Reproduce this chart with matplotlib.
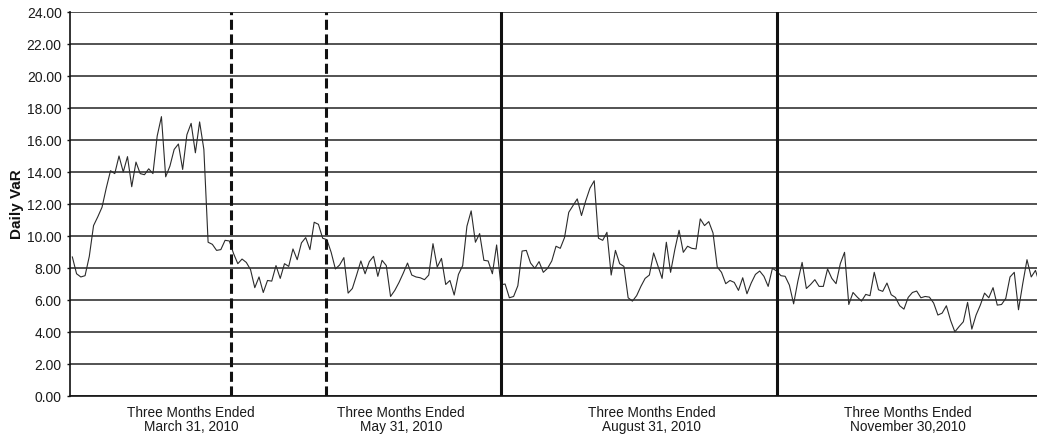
import numpy as np
import matplotlib
matplotlib.use('Agg')
import matplotlib.pyplot as plt

plt.rcParams['font.family'] = ['Liberation Sans', 'DejaVu Sans']

# Daily VaR readings, one per trading day
var_q1 = [8.69, 7.64, 7.44, 7.52, 8.73, 10.65, 11.2, 11.8, 13.0, 14.08,
          13.9, 15.0, 14.0, 14.96, 13.08, 14.62, 13.9, 13.83, 14.2, 13.9,
          16.25, 17.46, 13.7, 14.37, 15.41, 15.75, 14.16, 16.33, 17.04, 15.2,
          17.13, 15.41, 9.61, 9.48, 9.1, 9.15, 9.73, 9.69]
var_q2 = [8.9, 8.27, 8.56, 8.35, 7.9, 6.77, 7.44, 6.47, 7.22, 7.18,
          8.15, 7.35, 8.27, 8.1, 9.19, 8.52, 9.57, 9.9, 9.15, 10.86,
          10.73, 9.86, 9.77, 8.98, 7.94, 8.19, 8.65, 6.43, 6.72, 7.56,
          8.44, 7.64, 8.4, 8.73, 7.48, 8.48, 8.15, 6.22,
          6.6, 7.1, 7.68, 8.31, 7.56, 7.44, 7.39, 7.27, 7.56, 9.52,
          8.06, 8.6, 6.97, 7.22, 6.31, 7.6, 8.15, 10.61, 11.57, 9.61,
          10.15, 8.48, 8.44, 7.64, 9.44]
var_q3 = [6.95, 7.0, 6.14, 6.22, 6.89, 9.06, 9.1, 8.31, 7.98, 8.4,
          7.73, 7.98, 8.44, 9.36, 9.23,
          9.9, 11.48, 11.9, 12.32, 11.28, 12.2, 12.99, 13.45, 9.86, 9.73,
          10.23, 7.56, 9.1, 8.27, 8.1, 6.14, 5.93, 6.27, 6.85, 7.35,
          7.56, 8.94, 8.15, 7.35, 9.61, 7.73, 9.15, 10.36, 8.98, 9.36,
          9.23, 9.19, 11.07, 10.65, 10.9, 10.19, 8.06, 7.73, 7.02, 7.22,
          7.1, 6.6, 7.39, 6.39, 7.06, 7.6, 7.81, 7.48, 6.85, 7.98]
var_q4 = [7.81, 7.52, 7.48, 6.93, 5.76, 7.18, 8.35, 6.72, 6.97, 7.27,
          6.85, 6.85, 7.94, 7.35, 7.02, 8.27, 8.98, 5.72, 6.47, 6.18,
          5.93, 6.35, 6.27, 7.73, 6.64, 6.54, 7.06, 6.33, 6.16, 5.64,
          5.43, 6.16, 6.47, 6.56, 6.14, 6.22, 6.18, 5.81, 5.06, 5.18,
          5.64, 4.72, 4.01, 4.34, 4.64, 5.85, 4.18, 5.06, 5.68, 6.43,
          6.14, 6.77, 5.68, 5.72, 6.1, 7.44, 7.73, 5.39, 7.02, 8.52,
          7.44, 7.85, 7.0]

daily_var = np.array(var_q1 + var_q2 + var_q3 + var_q4)
days = np.arange(len(daily_var))

period_labels = ['Three Months Ended\nMarch 31, 2010',
                 'Three Months Ended\nMay 31, 2010',
                 'Three Months Ended\nAugust 31, 2010',
                 'Three Months Ended\nNovember 30,2010']
label_pos = [28.0, 77.5, 136.6, 197.0]

# period boundaries (dashed = transition period, solid = quarter ends)
dashed_at = [37.4, 59.8]
solid_at = [101.1, 166.0]

fig = plt.figure(figsize=(10.37, 4.36), dpi=100)
ax = fig.add_axes([70 / 1037, 40 / 436, 967 / 1037, 384 / 436])

ax.set_axisbelow(True)
ax.yaxis.grid(True, color='#444444', linewidth=1.3)
ax.plot(days, daily_var, color='#2b2b2b', linewidth=0.8, zorder=3)

for xv in dashed_at:
    ax.axvline(xv, color='#111111', linewidth=2.2, linestyle=(0, (3.3, 1.5)), zorder=4)
for xv in solid_at:
    ax.axvline(xv, color='#111111', linewidth=2.2, zorder=4)

ax.set_ylim(0, 24)
ax.set_xlim(-0.55, 227.36)
ax.set_yticks(np.arange(0, 25, 2))
ax.set_yticklabels([f'{v:.2f}' for v in np.arange(0, 25, 2)], fontsize=10, color='#1a1a1a')
ax.tick_params(axis='y', length=2.5, width=1, pad=3.5, color='#111111')

ax.set_xticks(label_pos)
ax.set_xticklabels(period_labels, fontsize=9.8, color='#1a1a1a', linespacing=1.05)
ax.tick_params(axis='x', length=0, pad=7)

ax.set_ylabel('Daily VaR', fontsize=11, fontweight='bold', color='#111111')
ax.yaxis.set_label_coords(-0.0476, 0.5)

for side in ['top', 'right']:
    ax.spines[side].set_visible(False)
ax.spines['left'].set_linewidth(1.2)
ax.spines['bottom'].set_linewidth(1.2)
ax.spines['left'].set_color('#111111')
ax.spines['bottom'].set_color('#111111')

fig.savefig('out.png', dpi=100)
